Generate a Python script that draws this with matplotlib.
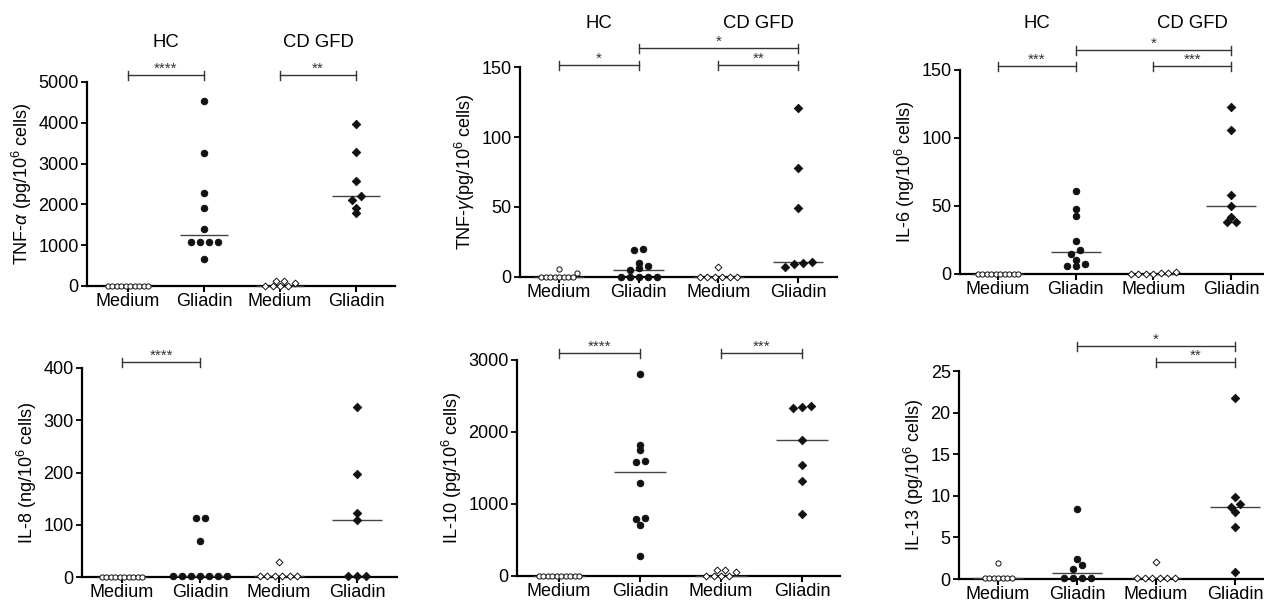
import numpy as np
import matplotlib.pyplot as plt

plt.rcParams['font.family'] = ['Liberation Sans', 'DejaVu Sans']
plt.rcParams['mathtext.fontset'] = 'custom'
plt.rcParams['mathtext.rm'] = 'Liberation Sans'
plt.rcParams['mathtext.it'] = 'Liberation Sans:italic'

# x categories and group headers
categories = ['Medium', 'Gliadin', 'Medium', 'Gliadin']
group_names = ['HC', 'CD GFD']

# TNF-alpha (pg/10^6 cells)
tnfa_hc_medium = [0, 0, 0, 0, 0, 0, 0, 0, 0, 0]
tnfa_hc_gliadin = [4530, 3260, 2280, 1920, 1405, 1080, 1080, 1080, 1080, 650]
tnfa_cd_medium = [80, 0, 130, 0, 130, 0, 0]
tnfa_cd_gliadin = [3960, 3280, 2580, 2200, 2120, 1920, 1790]

# TNF-gamma (pg/10^6 cells)
tnfg_hc_medium = [0, 0, 0, 0, 2.5, 0, 6, 0, 0, 0]
tnfg_hc_gliadin = [20, 19.5, 10, 8, 6.5, 5, 0, 0, 0, 0, 0]
tnfg_cd_medium = [0, 0, 7, 0, 0, 0, 0]
tnfg_cd_gliadin = [121, 78, 49, 10.5, 7, 9, 10]

# IL-6 (ng/10^6 cells)
il6_hc_medium = [0, 0, 0, 0, 0, 0, 0, 0, 0, 0]
il6_hc_gliadin = [61, 48, 42.5, 24.5, 18, 15, 10.5, 7, 6, 6]
il6_cd_medium = [0, 0, 1.5, 0.5, 0.5, 0, 0]
il6_cd_gliadin = [123, 106, 58, 50, 42, 38, 38.5]

# IL-8 (ng/10^6 cells)
il8_hc_medium = [0, 0, 0, 0, 0, 0, 0, 0, 0, 0]
il8_hc_gliadin = [113, 113, 68, 2, 2, 2, 2, 2, 2, 2]
il8_cd_medium = [2, 2, 28, 2, 2, 2, 2]
il8_cd_gliadin = [326, 198, 122, 109, 2, 2, 2]

# IL-10 (pg/10^6 cells)
il10_hc_medium = [0, 0, 0, 0, 0, 0, 0, 0, 0, 0]
il10_hc_gliadin = [2800, 1820, 1750, 1600, 1590, 1290, 800, 790, 705, 280]
il10_cd_medium = [55, 0, 80, 0, 80, 0, 0]
il10_cd_gliadin = [2360, 2340, 2350, 1890, 1540, 1320, 860]

# IL-13 (pg/10^6 cells)
il13_hc_medium = [0.1, 0.1, 0.1, 1.9, 0.1, 0.1, 0.1, 0.1]
il13_hc_gliadin = [8.4, 2.4, 1.7, 1.25, 0.1, 0.1, 0.1, 0.1]
il13_cd_medium = [0.1, 0.1, 2.0, 0.1, 0.1, 0.1, 0.1]
il13_cd_gliadin = [21.7, 9.9, 9.0, 8.7, 8.0, 6.2, 0.8]

panels = [
    dict(groups=[tnfa_hc_medium, tnfa_hc_gliadin, tnfa_cd_medium, tnfa_cd_gliadin],
         ylabel='TNF-$\\alpha$ (pg/10$^6$ cells)', yticks=[0, 1000, 2000, 3000, 4000, 5000],
         sig=[(0, 1, '****', 0), (2, 3, '**', 0)], header=True),
    dict(groups=[tnfg_hc_medium, tnfg_hc_gliadin, tnfg_cd_medium, tnfg_cd_gliadin],
         ylabel='TNF-$\\gamma$(pg/10$^6$ cells)', yticks=[0, 50, 100, 150],
         sig=[(0, 1, '*', 0), (2, 3, '**', 0), (1, 3, '*', 1)], header=True),
    dict(groups=[il6_hc_medium, il6_hc_gliadin, il6_cd_medium, il6_cd_gliadin],
         ylabel='IL-6 (ng/10$^6$ cells)', yticks=[0, 50, 100, 150],
         sig=[(0, 1, '***', 0), (2, 3, '***', 0), (1, 3, '*', 1)], header=True),
    dict(groups=[il8_hc_medium, il8_hc_gliadin, il8_cd_medium, il8_cd_gliadin],
         ylabel='IL-8 (ng/10$^6$ cells)', yticks=[0, 100, 200, 300, 400],
         sig=[(0, 1, '****', 0)], header=False),
    dict(groups=[il10_hc_medium, il10_hc_gliadin, il10_cd_medium, il10_cd_gliadin],
         ylabel='IL-10 (pg/10$^6$ cells)', yticks=[0, 1000, 2000, 3000],
         sig=[(0, 1, '****', 0), (2, 3, '***', 0)], header=False),
    dict(groups=[il13_hc_medium, il13_hc_gliadin, il13_cd_medium, il13_cd_gliadin],
         ylabel='IL-13 (pg/10$^6$ cells)', yticks=[0, 5, 10, 15, 20, 25],
         sig=[(2, 3, '**', 0), (1, 3, '*', 1)], header=False),
]

# layout in figure pixels: axes left, top, right, bottom, first / last category x,
# bracket levels above axis top, header offset above axis top
W, H = 1264, 605
layout = [
    (87, 82, 395, 286, 128, 356, (7, 23), 39),
    (520, 67, 837, 277, 559, 798, (2, 19), 44),
    (960, 70, 1263, 274, 998, 1231, (4, 20), 47),
    (82, 368, 397, 577, 122, 357, (6, 22), 0),
    (517, 360, 840, 576, 559, 802, (7, 23), 0),
    (959, 371, 1264, 579, 998, 1235, (9, 25), 0),
]

markers = [('o', 'white', 14, 4.5), ('o', '#111111', 22, 9.0),
           ('D', 'white', 12, 7.5), ('D', '#111111', 18, 9.0)]


def row_offsets(vals, px_per_unit, step, gap=5.0):
    # group nearly equal values into rows and centre each row
    order = np.argsort(vals, kind='stable')
    offs = np.zeros(len(vals))
    rows, cur, start = [], [], None
    for i in order:
        y = vals[i] * px_per_unit
        if start is None or y - start > gap:
            if cur:
                rows.append(cur)
            cur, start = [i], y
        else:
            cur.append(i)
    if cur:
        rows.append(cur)
    for r in rows:
        n = len(r)
        for k, i in enumerate(r):
            offs[i] = (k - (n - 1) / 2) * step
    return offs


fig = plt.figure(figsize=(W / 100, H / 100), dpi=100)

for p, (l, t, r, b, c0, c3, levels, head) in zip(panels, layout):
    ax = fig.add_axes([l / W, 1 - b / H, (r - l) / W, (b - t) / H])
    s = (c3 - c0) / 3.0
    ax.set_xlim((l - c0) / s, 3 + (r - c3) / s)
    ymax = p['yticks'][-1]
    ax.set_ylim(0, ymax)
    ppu = (b - t) / ymax  # pixels per data unit

    for i, vals in enumerate(p['groups']):
        vals = np.asarray(vals, dtype=float)
        m, fc, size, step = markers[i]
        xs = i + row_offsets(vals, ppu, step) / s
        ax.scatter(xs, vals, marker=m, s=size, facecolor=fc, edgecolor='#111111',
                   linewidth=0.7, clip_on=False, zorder=4)
        med = np.median(vals)
        ax.hlines(med, i - 0.32, i + 0.32, color='#444444', lw=1.0, zorder=3, clip_on=False)

    # significance brackets
    for a, c, stars, lev in p['sig']:
        y = ymax + levels[lev] / ppu
        ax.plot([a, c], [y, y], color='#333333', lw=1.0, clip_on=False)
        for xx in (a, c):
            ax.plot([xx, xx], [y + 4 / ppu, y - 5 / ppu], color='#333333', lw=1.0, clip_on=False)
        ax.text((a + c) / 2, y - 1 / ppu, stars, ha='center', va='bottom',
                fontsize=11, color='#333333')

    if p['header']:
        for g, name in enumerate(group_names):
            ax.annotate(name, xy=(2 * g + 0.5, 1), xycoords=('data', 'axes fraction'),
                        xytext=(0, head * 0.72), textcoords='offset points',
                        ha='center', va='center', fontsize=13.3)

    ax.spines['top'].set_visible(False)
    ax.spines['right'].set_visible(False)
    ax.spines['left'].set_linewidth(1.6)
    ax.spines['bottom'].set_linewidth(1.6)
    ax.set_xticks(range(4))
    ax.set_xticklabels(categories, fontsize=13)
    ax.set_yticks(p['yticks'])
    ax.set_yticklabels([str(v) for v in p['yticks']], fontsize=13)
    ax.tick_params(axis='x', length=4, width=1.5, pad=1)
    ax.tick_params(axis='y', length=4, width=1.3, pad=2)
    ax.set_ylabel(p['ylabel'], fontsize=13, labelpad=3)

fig.savefig('out.png', dpi=100)
